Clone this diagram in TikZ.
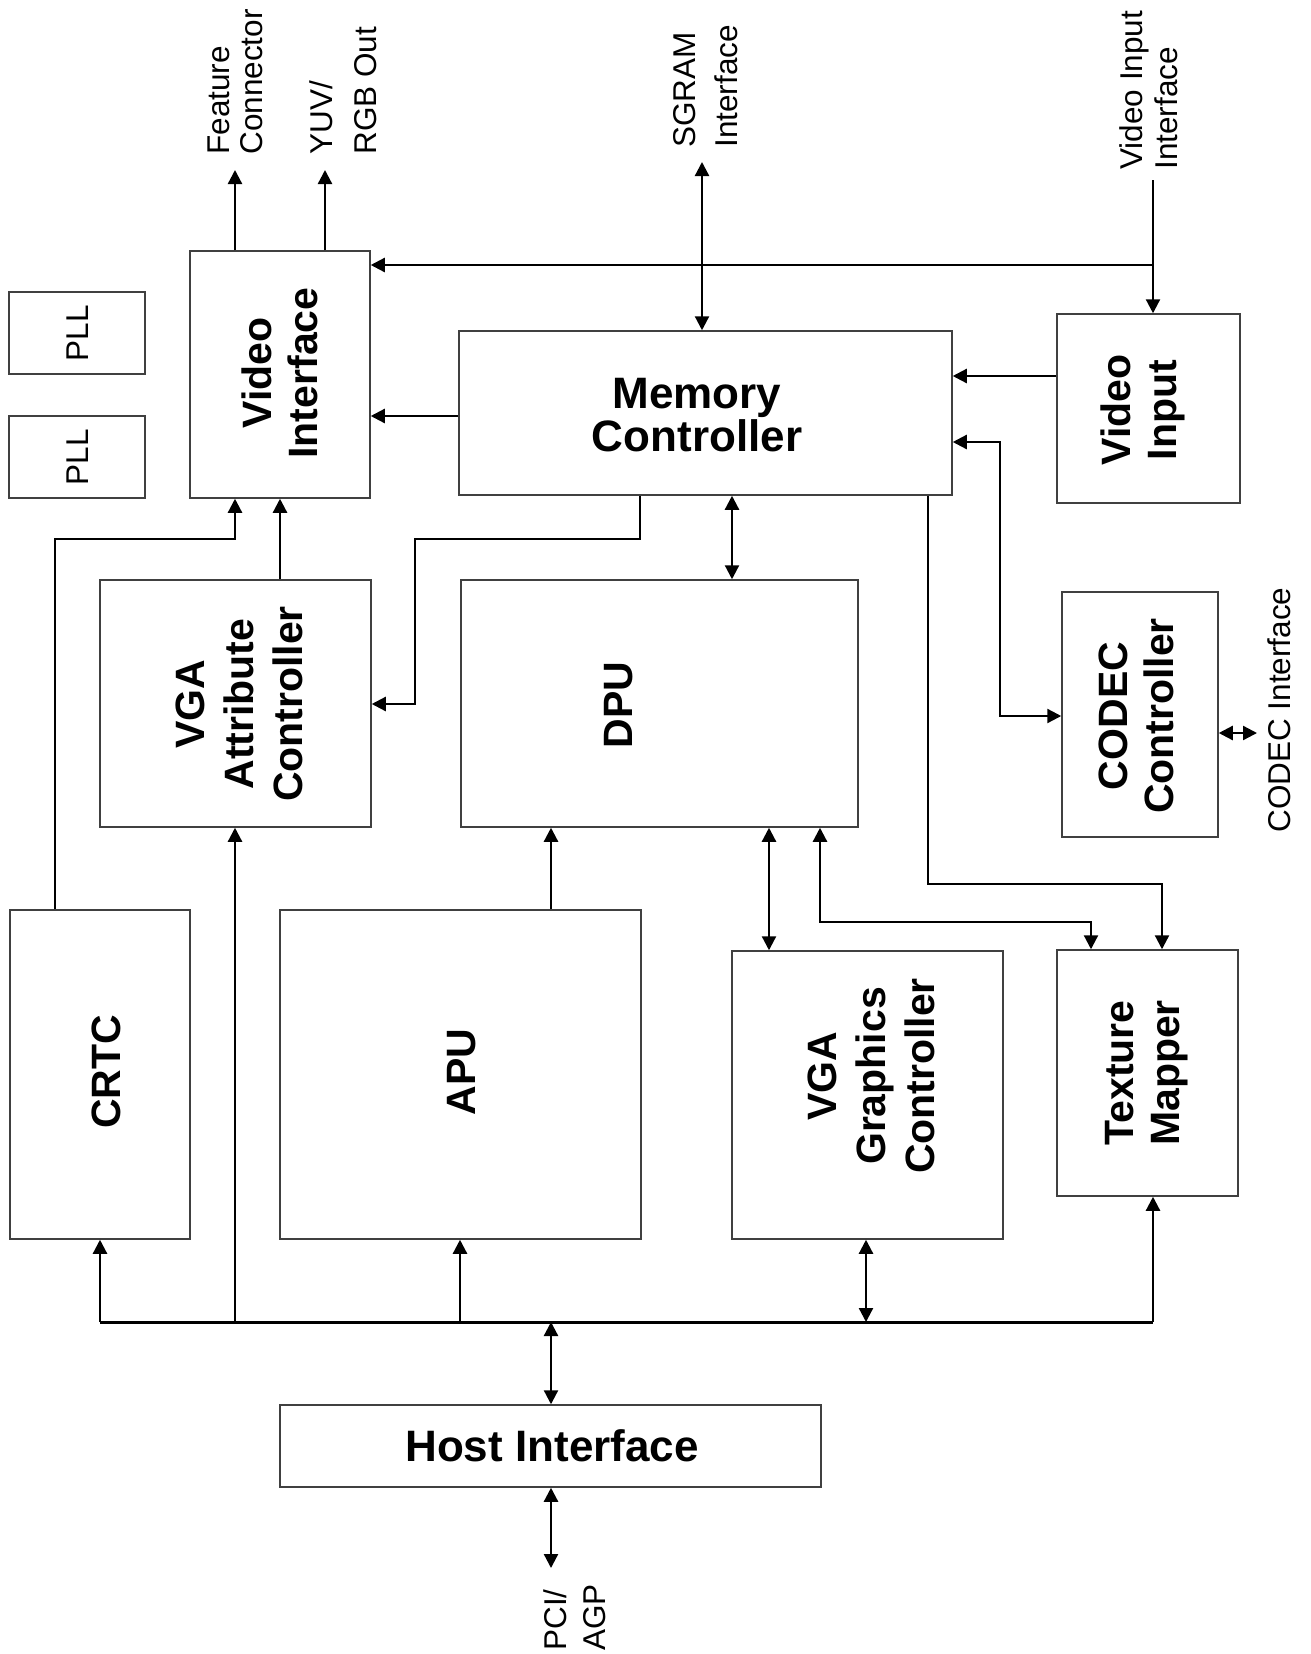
\documentclass[tikz,border=0pt]{standalone}
\usepackage{fontspec}
\setmainfont{Liberation Sans}
\usetikzlibrary{arrows.meta,fit}
\begin{document}
\begin{tikzpicture}[x=0.5pt,y=-0.5pt,
  box/.style={draw=black!75, line width=0.75pt, inner sep=0pt},
  conn/.style={line width=1.15pt, black},
  arr/.style={conn, -{Triangle[length=7pt,width=7pt]}},
  darr/.style={conn, {Triangle[length=7pt,width=7pt]}-{Triangle[length=7pt,width=7pt]}},
  busline/.style={line width=1.5pt, black},
  bigtext/.style={font=\fontsize{20.5pt}{23pt}\selectfont\bfseries, align=center, inner sep=0pt},
  widetext/.style={font=\fontsize{20.5pt}{24.5pt}\selectfont\bfseries, align=center, inner sep=0pt},
  hbtext/.style={font=\fontsize{22pt}{20pt}\selectfont\bfseries, align=center, inner sep=0pt},
  small/.style={font=\fontsize{15.75pt}{16.5pt}\selectfont, align=left, inner sep=0pt},
]
\useasboundingbox (0,0) rectangle (1311,1654);
\fill[white] (0,0) rectangle (1311,1654);

% boxes
\node[box, fit={(9,292)(145,374)}] (pll1) {};
\node[box, fit={(9,416)(145,498)}] (pll2) {};
\node[box, fit={(190,251)(370,498)}] (vi) {};
\node[box, fit={(459,331)(952,495)}] (mc) {};
\node[box, fit={(1057,314)(1240,503)}] (vin) {};
\node[box, fit={(100,580)(371,827)}] (vga) {};
\node[box, fit={(461,580)(858,827)}] (dpu) {};
\node[box, fit={(1062,592)(1218,837)}] (codec) {};
\node[box, fit={(10,910)(190,1239)}] (crtc) {};
\node[box, fit={(280,910)(641,1239)}] (apu) {};
\node[box, fit={(732,951)(1003,1239)}] (vgc) {};
\node[box, fit={(1057,950)(1238,1196)}] (tm) {};
\node[box, fit={(280,1405)(821,1487)}] (host) {};

% box texts
\node[small, rotate=90] (pll1t) at (78,333) {PLL};
\node[small, rotate=90] (pll2t) at (78,457) {PLL};
\node[bigtext, rotate=90] (vit) at (280,373) {Video\\Interface};
\node[hbtext] (mct) at (697,415) {Memory\\Controller};
\node[bigtext, rotate=90] (vint) at (1143,410) {Video\\Input};
\node[widetext, rotate=90] (vgat) at (239,704) {VGA\\Attribute\\Controller};
\node[bigtext, rotate=90] (dput) at (619,705) {DPU};
\node[bigtext, rotate=90] (codect) at (1136,716) {CODEC\\Controller};
\node[bigtext, rotate=90] (crtct) at (106,1072) {CRTC};
\node[bigtext, rotate=90] (aput) at (462,1072) {APU};
\node[widetext, rotate=90] (vgct) at (871,1076) {VGA\\Graphics\\Controller};
\node[bigtext, rotate=90] (tmt) at (1147,1073) {Texture\\Mapper};
\node[hbtext] (hostt) at (552,1446) {Host Interface};

% outside labels
\node[small, rotate=90, anchor=west] (fcl) at (235.5,155) {Feature\\Connector};
\node[small, rotate=90, anchor=west] (yuvl) at (343.5,155) {YUV/\\[5.5pt]RGB Out};
\node[small, rotate=90, anchor=west] (sgl) at (706,148) {SGRAM\\[4.5pt]Interface};
\node[small, rotate=90, anchor=west] (vil) at (1148.5,170) {Video Input\\[1pt]Interface};
\node[small, rotate=90, anchor=west] (cil) at (1279.5,833) {CODEC Interface};
\node[small, rotate=90, anchor=west] (pcil) at (574.5,1651) {PCI/\\[3pt]AGP};

% free ends and bends
\coordinate (fcend) at (235,170);
\coordinate (yuvend) at (325,170);
\coordinate (sgend) at (702,162);
\coordinate (viiend) at (1153,180);
\coordinate (vij) at (1153,265);
\coordinate (y376) at (0,376);
\coordinate (y416) at (0,416);
\coordinate (cA) at (1000,442);
\coordinate (cB) at (1000,716);
\coordinate (ciend) at (1257,733);
\coordinate (m1) at (640,539);
\coordinate (m2) at (415,539);
\coordinate (m3) at (415,704);
\coordinate (md) at (732,540);
\coordinate (t1) at (928,884);
\coordinate (t2) at (1162,884);
\coordinate (d1) at (820,922);
\coordinate (d2) at (1091,922);
\coordinate (g1) at (769,880);
\coordinate (a1) at (551,880);
\coordinate (c1) at (55,539);
\coordinate (c2) at (235,539);
\coordinate (v1) at (280,540);
\coordinate (bL) at (100,1322);
\coordinate (bR) at (1153,1322);
\coordinate (bVga) at (235,1322);
\coordinate (bApu) at (460,1322);
\coordinate (bVgc) at (866,1322);
\coordinate (bHost) at (551,1322);
\coordinate (pciend) at (551,1568);

% connectors
\draw[arr] (vi.north -| fcend) -- (fcend);
\draw[arr] (vi.north -| yuvend) -- (yuvend);
\draw[darr] (sgend) -- (mc.north -| sgend);
\draw[arr] (viiend) -- (vin.north -| viiend);
\draw[arr] (vij) -- (vi.east |- vij);
\draw[arr] (vin.west |- y376) -- (mc.east |- y376);
\draw[arr] (mc.west |- y416) -- (vi.east |- y416);
\draw[darr] (mc.east |- cA) -- (cA) -- (cB) -- (codec.west |- cB);
\draw[darr] (codec.east |- ciend) -- (ciend);
\draw[arr] (mc.south -| m1) -- (m1) -- (m2) -- (m3) -- (vga.east |- m3);
\draw[darr] (mc.south -| md) -- (dpu.north -| md);
\draw[arr] (mc.south -| t1) -- (t1) -- (t2) -- (tm.north -| t2);
\draw[darr] (dpu.south -| d1) -- (d1) -- (d2) -- (tm.north -| d2);
\draw[darr] (dpu.south -| g1) -- (vgc.north -| g1);
\draw[arr] (apu.north -| a1) -- (dpu.south -| a1);
\draw[arr] (crtc.north -| c1) -- (c1) -- (c2) -- (vi.south -| c2);
\draw[arr] (vga.north -| v1) -- (vi.south -| v1);

% bus
\draw[busline] (bL) -- (bR);
\draw[arr] (bL) -- (crtc.south -| bL);
\draw[arr] (bR) -- (tm.south -| bR);
\draw[arr] (bVga) -- (vga.south -| bVga);
\draw[arr] (bApu) -- (apu.south -| bApu);
\draw[darr] (bVgc) -- (vgc.south -| bVgc);
\draw[darr] (bHost) -- (host.north -| bHost);
\draw[darr] (host.south -| pciend) -- (pciend);
\end{tikzpicture}
\end{document}
